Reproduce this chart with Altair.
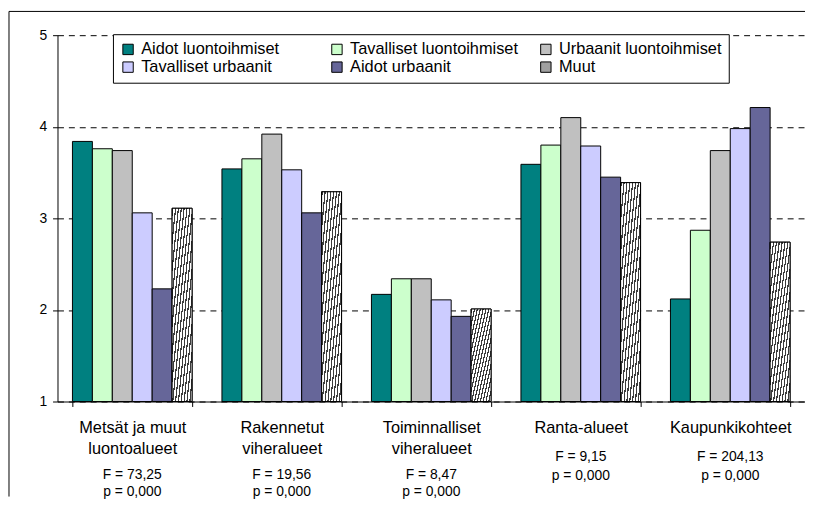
import altair as alt
import pandas as pd

# ---- data ----
categories = ["Metsät ja muut|luontoalueet", "Rakennetut|viheralueet",
              "Toiminnalliset|viheralueet", "Ranta-alueet", "Kaupunkikohteet"]
series = ["Aidot luontoihmiset", "Tavalliset luontoihmiset", "Urbaanit luontoihmiset",
          "Tavalliset urbaanit", "Aidot urbaanit", "Muut"]
aidot_luonto = [3.84, 3.54, 2.17, 3.59, 2.12]
tavalliset_luonto = [3.76, 3.65, 2.34, 3.80, 2.87]
urbaanit_luonto = [3.74, 3.92, 2.34, 4.10, 3.74]
tavalliset_urbaanit = [3.06, 3.53, 2.11, 3.79, 3.98]
aidot_urbaanit = [2.23, 3.06, 1.93, 3.45, 4.21]
muut = [3.11, 3.29, 2.01, 3.39, 2.74]
f_values = ["73,25", "19,56", "8,47", "9,15", "204,13"]
p_values = ["0,000", "0,000", "0,000", "0,000", "0,000"]
y_ticks = [1, 2, 3, 4, 5]

colors = ["#008080", "#CCFFCC", "#C0C0C0", "#CCCCFF", "#666699", "#a0a0a0"]

all_values = [aidot_luonto, tavalliset_luonto, urbaanit_luonto,
              tavalliset_urbaanit, aidot_urbaanit, muut]
rows = []
for s, vals in zip(series, all_values):
    for c, v in zip(categories, vals):
        rows.append({"cat": c, "series": s, "value": v})
df = pd.DataFrame(rows)

stats = pd.DataFrame({"cat": categories, "F": f_values, "p": p_values,
                      "nlines": [len(c.split("|")) for c in categories]})

FONT = "Liberation Sans"
W, H = 755, 370
PAD_L, PAD_T, PAD_B = 50, 25, 96

x_enc = alt.X("cat:N", sort=categories,
              scale=alt.Scale(paddingInner=0.2, paddingOuter=0.1),
              axis=alt.Axis(title=None, labelAngle=0,
                            labelExpr="split(datum.label, '|')",
                            labelFontSize=16.5, labelLineHeight=22,
                            labelColor="black", labelPadding=13,
                            tickBand="extent", tickSize=5, tickColor="black",
                            domainColor="black", labelLimit=300))
xo_enc = alt.XOffset("series:N", sort=series,
                     scale=alt.Scale(domain=series, paddingInner=0, paddingOuter=0))
y_enc = alt.Y("value:Q",
              scale=alt.Scale(domain=[1, 5], nice=False, zero=False),
              axis=alt.Axis(title=None, values=y_ticks, format="d", grid=True,
                            gridDash=[6, 5], gridColor="black", gridWidth=1,
                            domainColor="black", tickColor="black", tickSize=5,
                            labelFontSize=14, labelColor="black", labelPadding=6))

bars = alt.Chart(df).mark_bar(stroke="black", strokeWidth=1).encode(
    x=x_enc, xOffset=xo_enc, y=y_enc, y2=alt.datum(1),
    fill=alt.Fill("series:N", sort=series,
                  scale=alt.Scale(domain=series, range=colors),
                  legend=alt.Legend(title=None, orient="none", legendX=56, legendY=-1,
                                    columns=3, direction="horizontal", gridAlign="all",
                                    columnPadding=19, rowPadding=1, padding=7,
                                    strokeColor="black", fillColor="white",
                                    symbolType="square", symbolSize=110,
                                    symbolStrokeColor="black", symbolStrokeWidth=1,
                                    labelFontSize=16.5, labelOffset=5, labelLimit=300,
                                    labelColor="black")))

# hatch imitation for "Muut"
n_per = 14
period = 1 / n_per
stops = []
for k in range(n_per):
    a = k * period
    stops += [{"offset": a, "color": "#3c3c3c"},
              {"offset": a + period * 0.42, "color": "#3c3c3c"},
              {"offset": a + period * 0.42, "color": "#ffffff"},
              {"offset": a + period, "color": "#ffffff"}]
hatch = {"gradient": "linear", "x1": 0, "y1": 0, "x2": 1, "y2": 1, "stops": stops}

muut_bars = alt.Chart(df).transform_filter("datum.series == 'Muut'").mark_bar(
    fill=hatch, stroke="black", strokeWidth=1).encode(
    x=alt.X("cat:N", sort=categories), xOffset=xo_enc,
    y=alt.Y("value:Q"), y2=alt.datum(1))

base_stats = alt.Chart(stats).transform_calculate(
    txt="['F = ' + datum.F, 'p = ' + datum.p]")
stats2 = base_stats.transform_filter("datum.nlines == 2").mark_text(
    baseline="top", fontSize=14, lineHeight=17, color="black").encode(
    x=alt.X("cat:N", sort=categories), y=alt.value(H + 67), text="txt:N")
stats1 = base_stats.transform_filter("datum.nlines == 1").mark_text(
    baseline="top", fontSize=14, lineHeight=19, color="black").encode(
    x=alt.X("cat:N", sort=categories), y=alt.value(H + 49), text="txt:N")

frame_df = pd.DataFrame({"k": [0]})
frame_left = alt.Chart(frame_df).mark_rule(color="black", strokeWidth=1).encode(
    x=alt.value(-49), y=alt.value(-24), y2=alt.value(H + PAD_B))
frame_top = alt.Chart(frame_df).mark_rule(color="black", strokeWidth=1).encode(
    x=alt.value(-49), x2=alt.value(W), y=alt.value(-24))

chart = alt.layer(bars, muut_bars, stats2, stats1, frame_left, frame_top).properties(
    width=W, height=H,
    autosize=alt.AutoSizeParams(type="none"),
    padding={"left": PAD_L, "top": PAD_T, "right": 0, "bottom": PAD_B},
    background="white"
).configure(font=FONT).configure_view(strokeWidth=0)

chart.save("out.html", embed_options={"renderer": "svg", "actions": False})
